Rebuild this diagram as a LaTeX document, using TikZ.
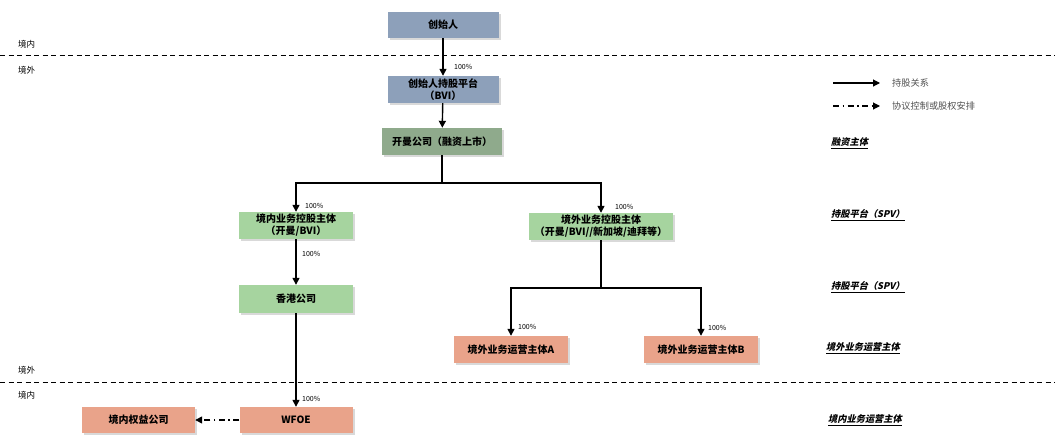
\documentclass[tikz,border=0pt]{standalone}
\usepackage{fontspec}
\setmainfont{Noto Sans CJK SC}
\newfontfamily\labfont[FakeSlant=0.22]{Noto Sans CJK SC}
\usetikzlibrary{arrows.meta,shadows}
\definecolor{bluegrey}{RGB}{141,160,186}
\definecolor{darkgreen}{RGB}{143,170,140}
\definecolor{lightgreen}{RGB}{166,212,159}
\definecolor{salmon}{RGB}{233,163,138}
\definecolor{legtext}{RGB}{80,80,80}
\begin{document}
\begin{tikzpicture}[x=1pt,y=-1pt,
  box/.style={draw=none, inner sep=1pt, align=center,
    font=\fontsize{10}{12}\selectfont\bfseries,
    drop shadow={shadow xshift=2pt,shadow yshift=-2pt,opacity=0.3}},
  own/.style={line width=1.4pt,-{Triangle[length=7pt,width=7pt]}},
  ctrl/.style={line width=1.4pt,dash pattern=on 6pt off 3.5pt on 1.5pt off 3.5pt,-{Triangle[length=7pt,width=7pt]}},
  pct/.style={font=\fontsize{7}{8}\selectfont, anchor=west, inner sep=1pt},
  zone/.style={font=\fontsize{8.5}{10}\selectfont, anchor=west, inner sep=1pt},
  leg/.style={font=\fontsize{9.2}{11}\selectfont, text=legtext, anchor=west, inner sep=1pt},
  side/.style={font=\labfont\fontsize{9.2}{11}\selectfont\bfseries, anchor=west, inner sep=1pt},
  sep/.style={line width=0.9pt, dash pattern=on 5pt off 3.5pt},
]
\useasboundingbox (0,0) rectangle (1055,445);

% separators
\draw[sep] (0,55.5) -- (1055,55.5);
\draw[sep] (0,382) -- (1055,382);
\node[zone] (z1) at (17,44) {境内};
\node[zone] (z2) at (17,70) {境外};
\node[zone] (z3) at (17,370) {境外};
\node[zone] (z4) at (17,395) {境内};

% boxes
\node[box, fill=bluegrey, minimum width=111pt, minimum height=26pt] (f) at (443,25) {创始人};
\node[box, fill=bluegrey, minimum width=111pt, minimum height=27pt] (fp) at (443,89.5) {创始人持股平台\\（BVI）};
\node[box, fill=darkgreen, minimum width=120pt, minimum height=27pt] (km) at (442,141.5) {开曼公司（融资上市）};
\node[box, fill=lightgreen, minimum width=114pt, minimum height=27pt] (dh) at (296,225.5) {境内业务控股主体\\（开曼/BVI）};
\node[box, fill=lightgreen, minimum width=144pt, minimum height=27pt] (oh) at (601,226.5) {境外业务控股主体\\（开曼/BVI//新加坡/迪拜等）};
\node[box, fill=lightgreen, minimum width=114pt, minimum height=28pt] (hk) at (296,299) {香港公司};
\node[box, fill=salmon, minimum width=114pt, minimum height=27pt] (A) at (511,349.5) {境外业务运营主体A};
\node[box, fill=salmon, minimum width=114pt, minimum height=27pt] (B) at (701,349.5) {境外业务运营主体B};
\node[box, fill=salmon, minimum width=113pt, minimum height=26pt] (wfoe) at (296,420) {WFOE};
\node[box, fill=salmon, minimum width=113pt, minimum height=26pt] (dq) at (138.5,420) {境内权益公司};

% connectors
\coordinate (br1) at (442,183);
\coordinate (br2) at (601,288);
\draw[own] (f) -- (fp);
\draw[own] (fp) -- (km);
\draw[line width=1.4pt] (km.south) -- (br1);
\draw[own] (br1) -| (dh.north);
\draw[own] (br1) -| (oh.north);
\draw[own] (dh) -- (hk);
\draw[own] (hk) -- (wfoe);
\draw[line width=1.4pt] (oh.south) -- (br2);
\draw[own] (br2) -| (A.north);
\draw[own] (br2) -| (B.north);
\draw[ctrl] (wfoe.west) -- (dq.east);

% percentages
\node[pct] (p1) at (453,67) {100\%};
\node[pct] (p2) at (304,206) {100\%};
\node[pct] (p3) at (614,207) {100\%};
\node[pct] (p4) at (301,254) {100\%};
\node[pct] (p5) at (517,327) {100\%};
\node[pct] (p6) at (707,328) {100\%};
\node[pct] (p7) at (301,399) {100\%};

% legend
\coordinate (l1a) at (833,83);
\coordinate (l1b) at (880,83);
\coordinate (l2a) at (833,106);
\coordinate (l2b) at (880,106);
\draw[own, line width=1.1pt] (l1a) -- (l1b);
\draw[ctrl, line width=1.1pt] (l2a) -- (l2b);
\node[leg] (lt1) at (891,83) {持股关系};
\node[leg] (lt2) at (891,106) {协议控制或股权安排};

% side labels
\node[side] (s1) at (830,143) {\underline{融资主体}};
\node[side] (s2) at (830,215) {\underline{持股平台（SPV）}};
\node[side] (s3) at (830,287) {\underline{持股平台（SPV）}};
\node[side] (s4) at (825,348) {\underline{境外业务运营主体}};
\node[side] (s5) at (827,420) {\underline{境内业务运营主体}};
\end{tikzpicture}
\end{document}
